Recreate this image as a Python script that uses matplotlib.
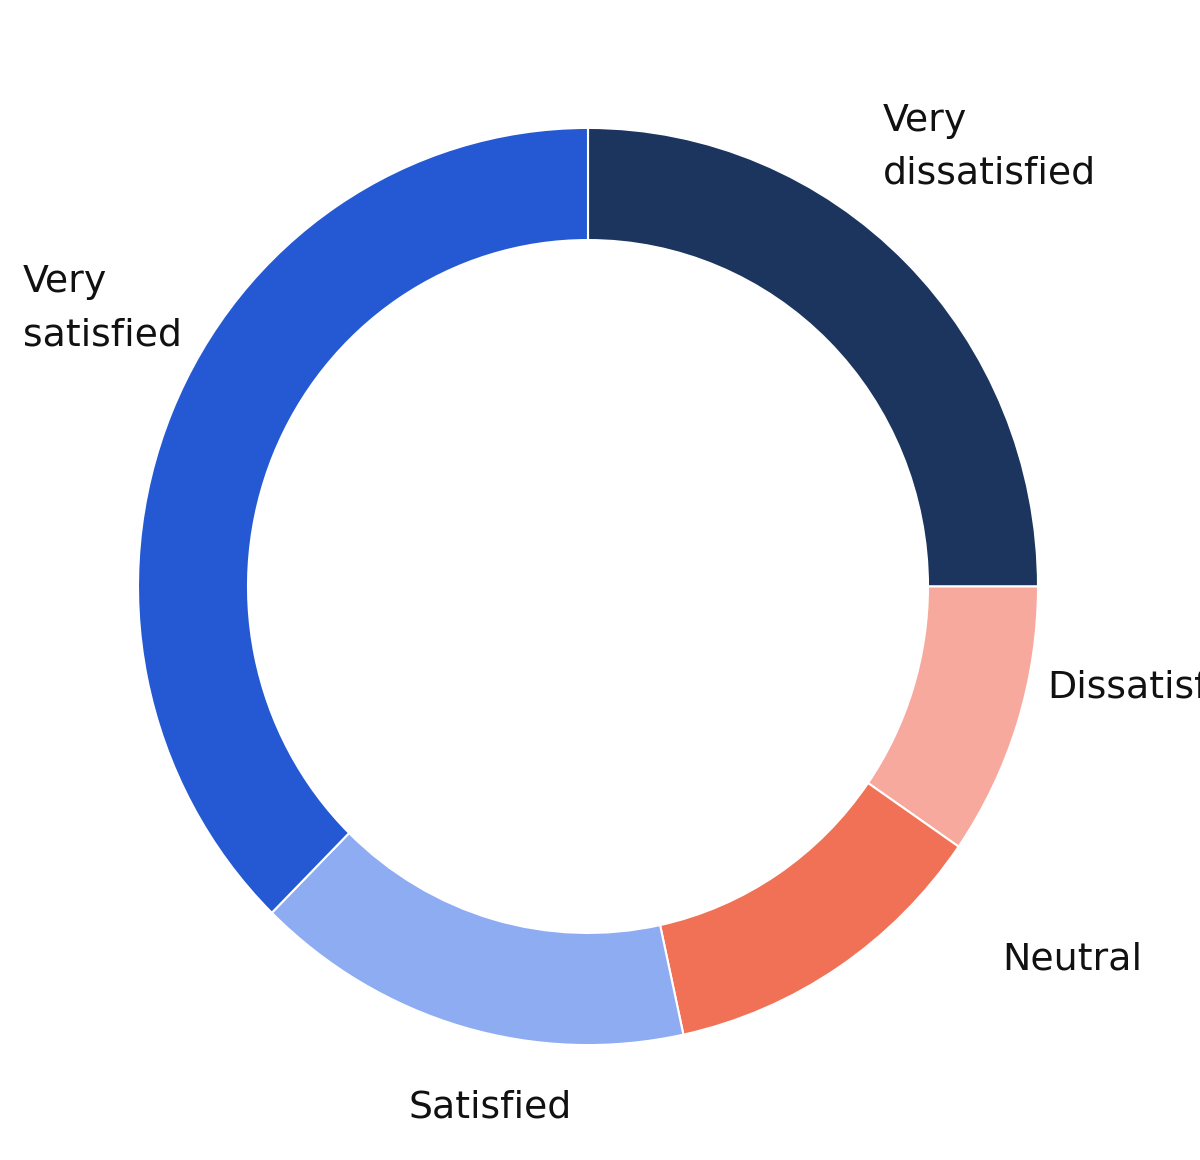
import matplotlib.pyplot as plt

# ----------------------------
# Data
# ----------------------------
categories = ["Very dissatisfied", "Dissatisfied", "Neutral", "Satisfied", "Very satisfied"]
shares = [25.0, 9.6, 12.0, 15.8, 37.6]
label_texts = ["Very\ndissatisfied", "Dissatisfied", "Neutral", "Satisfied", "Very\nsatisfied"]
colors = ["#1c355e", "#f8a99e", "#f07155", "#8eacf2", "#2459d3"]

# label anchor (pixels from top-left, baseline of the last line)
label_pos = [(883, 184), (1047, 698), (1002, 970), (408, 1118), (23, 345)]

# ----------------------------
# Layout
# ----------------------------
W, H = 1200, 1160
Y_STRETCH = 1.019          # the ring in the reference is slightly taller than wide
CX, CY = 588, 586.5        # ring centre in pixels
R_OUT, RING_W = 450, 110

fig = plt.figure(figsize=(W / 100, H / 100), dpi=100)
ax = fig.add_axes([0, 0, 1, 1])

ax.pie(shares, colors=colors, startangle=90, counterclock=False,
       center=(CX, (H - CY) / Y_STRETCH), radius=R_OUT,
       wedgeprops=dict(width=RING_W, edgecolor="white", linewidth=1.5))

ax.set_aspect("auto")
ax.set_xlim(0, W)
ax.set_ylim(0, H / Y_STRETCH)
ax.axis("off")

for txt, (px, py) in zip(label_texts, label_pos):
    fig.text(px / W, 1 - py / H, txt, fontsize=27.3, family="DejaVu Sans",
             color="#111111", ha="left", va="baseline", linespacing=1.6)

fig.savefig("out.png", dpi=100, facecolor="white")
